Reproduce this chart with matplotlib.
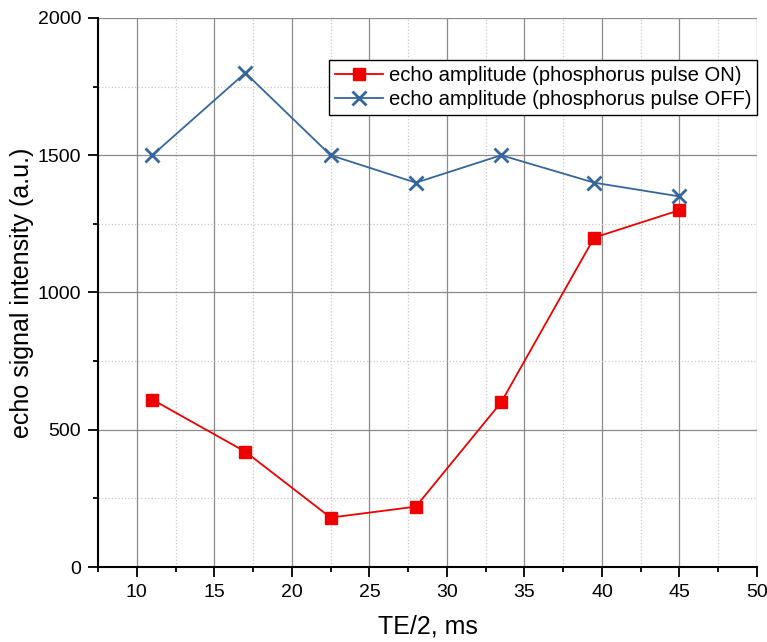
import numpy as np
import matplotlib.pyplot as plt
from matplotlib.ticker import MultipleLocator

plt.rcParams['font.family'] = ['Liberation Sans', 'DejaVu Sans']

te_half = [11, 17, 22.5, 28, 33.5, 39.5, 45]
echo_on = [610, 420, 180, 220, 600, 1200, 1300]
echo_off = [1500, 1800, 1500, 1400, 1500, 1400, 1350]

fig = plt.figure(figsize=(7.67, 6.42), dpi=100)
ax = fig.add_axes([0.1278, 0.1168, 0.8592, 0.8552])

ax.plot(te_half, echo_on, color='#ee0000', marker='s', markersize=8,
        linewidth=1.3, label='echo amplitude (phosphorus pulse ON)')
ax.plot(te_half, echo_off, color='#35669c', marker='x', markersize=10,
        markeredgewidth=2, linewidth=1.3,
        label='echo amplitude (phosphorus pulse OFF)')

ax.set_xlim(7.5, 50)
ax.set_ylim(0, 2000)
ax.xaxis.set_major_locator(MultipleLocator(5))
ax.xaxis.set_minor_locator(MultipleLocator(2.5))
ax.yaxis.set_major_locator(MultipleLocator(500))
ax.yaxis.set_minor_locator(MultipleLocator(250))

ax.grid(which='major', color='#8a8a8a', linewidth=0.9)
ax.grid(which='minor', color='#c8c8c8', linestyle=':', linewidth=0.9)
ax.set_axisbelow(True)

for s in ['top', 'right']:
    ax.spines[s].set_visible(False)
for s in ['left', 'bottom']:
    ax.spines[s].set_linewidth(1.5)

ax.tick_params(which='major', direction='out', length=7, width=1.3,
               labelsize=14, pad=5)
ax.tick_params(which='minor', direction='out', length=3.5, width=1.3)

ax.set_xlabel('TE/2, ms', fontsize=18, labelpad=10)
ax.set_ylabel('echo signal intensity (a.u.)', fontsize=18, labelpad=3)

leg = ax.legend(loc='upper left', bbox_to_anchor=(0.3505, 0.9235), fontsize=14.6,
                fancybox=False, framealpha=1, edgecolor='black',
                borderpad=0.3, handlelength=2.35, handletextpad=0.3,
                labelspacing=0.25, borderaxespad=0)
leg.get_frame().set_linewidth(1.0)

plt.savefig('out.png', dpi=100)
